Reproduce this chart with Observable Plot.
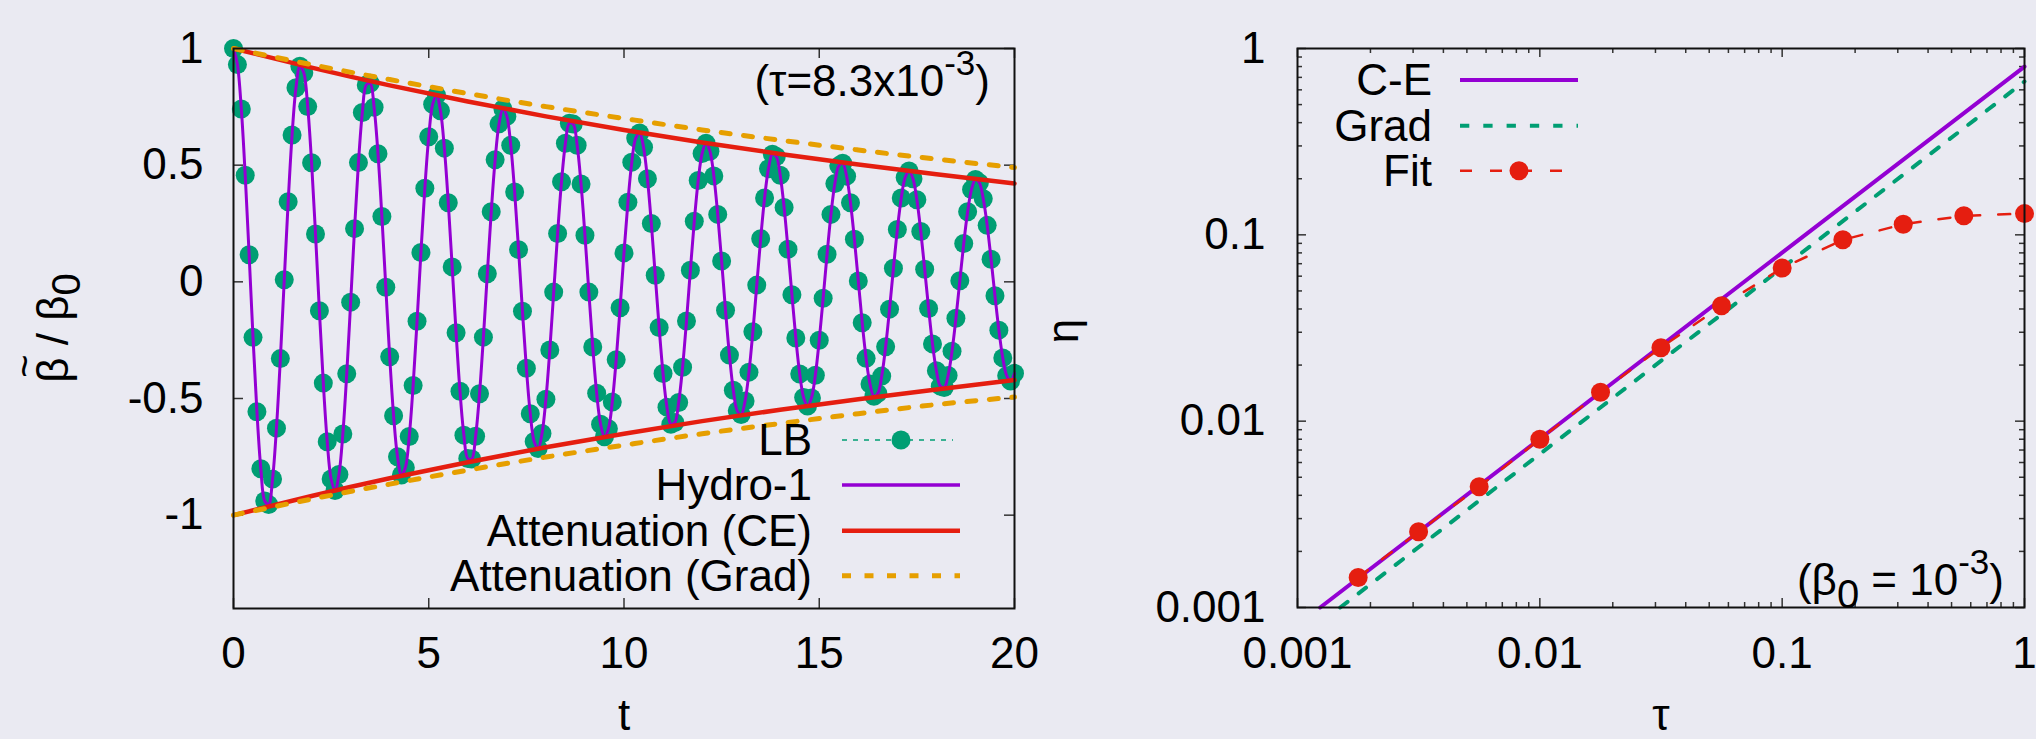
<!DOCTYPE html>
<html><head><meta charset="utf-8">
<script src="https://cdn.jsdelivr.net/npm/d3@7"></script>
<script src="https://cdn.jsdelivr.net/npm/@observablehq/plot@0.6"></script>
<style>
html,body{margin:0;padding:0;background:#eaeaf2;}
#wrap{position:relative;width:2036px;height:739px;overflow:hidden;background:#eaeaf2;}
#wrap svg{position:absolute;top:0;}
</style></head><body><div id="wrap"></div>
<script>
const FONT = "'Liberation Sans', Arial, Helvetica, sans-serif";

// ---------- left panel data ----------
const lbDt = 0.1; // LB samples every 0.1 in t, starting at t = 0
const lbValues = [
 1.000, .931, .741, .457, .116, -.238, -.557, -.801, -.939, -.954,
 -.845, -.627, -.329, .009, .343, .629, .832, .924, .896, .751,
 .510, .205, -.124, -.434, -.685, -.845, -.894, -.826, -.652, -.394,
 -.087, .228, .511, .726, .844, .851, .748, .549, .280, -.023,
 -.321, -.574, -.750, -.828, -.797, -.663, -.444, -.169, .126, .401,
 .622, .761, .799, .733, .573, .339, .064, -.218, -.469, -.657,
 -.757, -.759, -.662, -.480, -.237, .035, .300, .523, .677, .741,
 .709, .585, .385, .138, -.126, -.370, -.565, -.684, -.714, -.650,
 -.503, -.292, -.044, .207, .429, .594, .680, .676, .585, .419,
 .200, -.044, -.279, -.477, -.610, -.664, -.630, -.515, -.334, -.111,
 .124, .341, .513, .616, .638, .577, .442, .250, .028, -.196,
 -.393, -.537, -.610, -.603, -.517, -.366, -.168, .050, .260, .434,
 .550, .594, .560, .454, .289, .089, -.122, -.314, -.465, -.553,
 -.569, -.511, -.387, -.214, -.014, .185, .359, .485, .547, .537,
 .457, .319, .140, -.055, -.241, -.395, -.496, -.532, -.498, -.400,
 -.250, -.070, .118, .289, .421, .497, .508, .453, .339, .183,
 .004, -.175, -.328, -.438, -.490, -.478, -.404, -.278, -.117, .058,
 .224, .359, .447, .475, .442, .352, .216, .054, -.114, -.266,
 -.381, -.447, -.453, -.401, -.297, -.156, .005, .164, .300, .396,
 .439, .425, .356, .242, .097, -.060, -.207, -.326, -.402, -.425,
 -.392];
const envT       = [0, 2, 4, 6, 8, 10, 12, 14, 16, 18, 20];
const ceUpper    = [1, .918, .842, .773, .709, .651, .597, .548, .503, .461, .421];
const ceLower    = [-1, -.918, -.842, -.773, -.709, -.651, -.597, -.548, -.503, -.461, -.421];
const gradUpper  = [1, .931, .867, .807, .751, .700, .651, .607, .565, .526, .490];
const gradLower  = [-1, -.931, -.867, -.807, -.751, -.700, -.651, -.607, -.565, -.526, -.494];
const xTicksL = [0, 5, 10, 15, 20];
const yTicksL = [-1, -0.5, 0, 0.5, 1];

// ---------- right panel data ----------
const tauFit = [0.00178, 0.00316, 0.00562, 0.01, 0.0178, 0.0316, 0.0562, 0.1, 0.178, 0.316, 0.562, 1];
const etaFit = [0.00145, 0.00255, 0.00445, 0.0080, 0.0143, 0.0248, 0.0416, 0.0663, 0.094, 0.114, 0.1265, 0.130];
const ceTau = [0.00124, 1];
const ceEta = [0.001, 0.80];
const gradTau = [0.0015, 1];
const gradEta = [0.001, 0.665];
const decades = [0.001, 0.01, 0.1, 1];
const minorMult = [2, 3, 4, 5, 6, 7, 8, 9];

const C = {purple: "#9400d3", green: "#009e73", red: "#e51e10", orange: "#e69f00"};

const lb = lbValues.map((v, i) => ({t: +(i * lbDt).toFixed(1), v}));
const env = (T, V) => T.map((t, i) => ({t, v: V[i]}));
const pairs = (X, Y) => X.map((x, i) => ({x, y: Y[i]}));

function frameTicks(xt, yt, ih, iw, len, w = 1.5) {
  const o = {stroke: "#333", strokeWidth: w};
  return [
    Plot.tickX(xt, {x: d => d, insetTop: ih - len, ...o}),
    Plot.tickX(xt, {x: d => d, insetBottom: ih - len, ...o}),
    Plot.tickY(yt, {y: d => d, insetRight: iw - len, ...o}),
    Plot.tickY(yt, {y: d => d, insetLeft: iw - len, ...o})
  ];
}
const style = {background: "transparent", color: "black", fontFamily: FONT, fontSize: "44px", overflow: "visible"};

// ---------- left plot ----------
const LW = 1020, LH = 739, LML = 233, LMR = 6, LMT = 48, LMB = 131;
const left = Plot.plot({
  width: LW, height: LH,
  marginLeft: LML, marginRight: LMR, marginTop: LMT, marginBottom: LMB,
  x: {domain: [0, 20], label: null},
  y: {domain: [-1.4, 1], label: null},
  style,
  marks: [
    Plot.axisX({ticks: xTicksL, tickSize: 0, tickPadding: 28, tickFormat: d => String(d), fontSize: 44, label: null}),
    Plot.axisY({ticks: yTicksL, tickSize: 0, tickPadding: 30, tickFormat: d => String(d), fontSize: 44, label: null}),
    ...frameTicks(xTicksL, yTicksL, LH - LMT - LMB, LW - LML - LMR, 10),
    Plot.dot(lb, {x: "t", y: "v", r: 9.5, fill: C.green}),
    Plot.line(lb, {x: "t", y: "v", stroke: C.purple, strokeWidth: 3, curve: "catmull-rom"}),
    Plot.line(env(envT, ceUpper), {x: "t", y: "v", stroke: C.red, strokeWidth: 4.5, curve: "natural"}),
    Plot.line(env(envT, ceLower), {x: "t", y: "v", stroke: C.red, strokeWidth: 4.5, curve: "natural"}),
    Plot.line(env(envT, gradUpper), {x: "t", y: "v", stroke: C.orange, strokeWidth: 5, strokeDasharray: "9,13.5", curve: "natural"}),
    Plot.line(env(envT, gradLower), {x: "t", y: "v", stroke: C.orange, strokeWidth: 5, strokeDasharray: "9,13.5", curve: "natural"}),
    Plot.frame({stroke: "#111", strokeWidth: 2})
  ]
});

// ---------- right plot ----------
const RW = 1016, RH = 739, RML = 277, RMR = 12, RMT = 48, RMB = 132;
const minor = decades.slice(0, 3).flatMap(d => minorMult.map(m => +(d * m).toPrecision(3)));
const right = Plot.plot({
  width: RW, height: RH,
  marginLeft: RML, marginRight: RMR, marginTop: RMT, marginBottom: RMB,
  x: {type: "log", domain: [0.001, 1], label: null},
  y: {type: "log", domain: [0.001, 1], label: null},
  style,
  marks: [
    Plot.axisX({ticks: decades, tickSize: 0, tickPadding: 29, tickFormat: d => String(d), fontSize: 44, label: null}),
    Plot.axisY({ticks: decades, tickSize: 0, tickPadding: 32, tickFormat: d => String(d), fontSize: 44, label: null}),
    ...frameTicks(decades, decades, RH - RMT - RMB, RW - RML - RMR, 9),
    ...frameTicks(minor, minor, RH - RMT - RMB, RW - RML - RMR, 5),
    Plot.line(pairs(ceTau, ceEta), {x: "x", y: "y", stroke: C.purple, strokeWidth: 4}),
    Plot.line(pairs(gradTau, gradEta), {x: "x", y: "y", stroke: C.green, strokeWidth: 4, strokeDasharray: "9.3,14"}),
    Plot.line(pairs(tauFit, etaFit), {x: "x", y: "y", stroke: C.red, strokeWidth: 2.5, strokeDasharray: "12,18"}),
    Plot.dot(pairs(tauFit, etaFit), {x: "x", y: "y", r: 9.5, fill: C.red}),
    Plot.frame({stroke: "#111", strokeWidth: 2})
  ]
});

// ---------- text helpers ----------
function txt(svg, x, y, parts, {anchor = "start", rotate = 0, size = 44} = {}) {
  const t = d3.select(svg).append("text")
    .attr("transform", `translate(${x},${y}) rotate(${rotate})`)
    .attr("text-anchor", anchor).attr("font-family", FONT)
    .attr("font-size", size).attr("fill", "black");
  for (const p of parts) {
    const s = t.append("tspan").text(p.t);
    if (p.dy) s.attr("dy", p.dy);
    if (p.size) s.attr("font-size", p.size);
  }
  return t;
}
function sample(svg, x1, x2, y, o) {
  const g = d3.select(svg);
  g.append("line").attr("x1", x1).attr("x2", x2).attr("y1", y).attr("y2", y)
    .attr("stroke", o.stroke).attr("stroke-width", o.width)
    .attr("stroke-dasharray", o.dash || null);
  if (o.dot != null) g.append("circle").attr("cx", o.dot).attr("cy", y).attr("r", 9.5).attr("fill", o.stroke);
}

// left annotations
txt(left, 68, 328, [{t: "β / β"}, {t: "0", dy: 12, size: 40}], {anchor: "middle", rotate: -90});
txt(left, 38, 366, [{t: "~"}], {anchor: "middle", rotate: -90, size: 40});
txt(left, 624, 729.5, [{t: "t"}], {anchor: "middle"});
txt(left, 990, 95.5, [{t: "(τ=8.3x10"}, {t: "-3", dy: -21, size: 35}, {t: ")", dy: 21, size: 44}], {anchor: "end"});
const lgL = [
  {label: "LB", y: 440, o: {stroke: C.green, width: 1.5, dash: "5,6", dot: 901}, x2: 953},
  {label: "Hydro-1", y: 485, o: {stroke: C.purple, width: 3.5}},
  {label: "Attenuation (CE)", y: 530.7, o: {stroke: C.red, width: 4.5}},
  {label: "Attenuation (Grad)", y: 575.7, o: {stroke: C.orange, width: 5, dash: "9,13.5"}}
];
for (const r of lgL) {
  txt(left, 812, r.y + 15, [{t: r.label}], {anchor: "end"});
  sample(left, 842, r.x2 || 960, r.y, r.o);
}

// right annotations
txt(right, 58, 331, [{t: "η"}], {anchor: "middle", rotate: -90});
txt(right, 641, 729.5, [{t: "τ"}], {anchor: "middle"});
txt(right, 984, 595, [{t: "(β"}, {t: "0", dy: 13, size: 40}, {t: " = 10", dy: -13, size: 44}, {t: "-3", dy: -21, size: 35}, {t: ")", dy: 21, size: 44}], {anchor: "end"});
const lgR = [
  {label: "C-E", y: 80, o: {stroke: C.purple, width: 4}},
  {label: "Grad", y: 125.7, o: {stroke: C.green, width: 4, dash: "9.3,14"}},
  {label: "Fit", y: 170.7, o: {stroke: C.red, width: 2.5, dash: "12,18", dot: 499}}
];
for (const r of lgR) {
  txt(right, 412, r.y + 15, [{t: r.label}], {anchor: "end"});
  sample(right, 440, 558, r.y, r.o);
}

const wrap = document.getElementById("wrap");
left.style.left = "0px";
right.style.left = "1020px";
wrap.appendChild(left);
wrap.appendChild(right);
</script></body></html>
